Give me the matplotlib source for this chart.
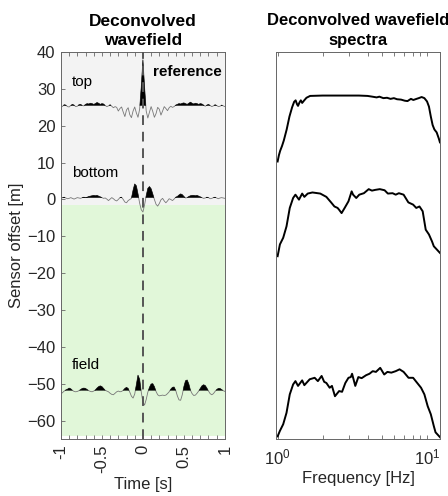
import numpy as np
import matplotlib
matplotlib.use("Agg")
import matplotlib.pyplot as plt
from matplotlib.ticker import FixedLocator, NullFormatter, LogLocator

plt.rcParams['font.family'] = ['Liberation Sans', 'DejaVu Sans']

# wiggle traces, sampled every 0.02 s from -1 to 1 (amplitude relative to trace offset)
trace_names = ["top", "bottom", "field"]
trace_offsets = [25.5, 0.5, -51.8]

top_trace = [
    -0.5, -0.2, 0.2, 0.1, -0.3, -0.4, 0.0, 0.3, 0.1, -0.3,
    -0.2, 0.2, 0.3, 0.0, -0.1, 0.3, 0.5, 0.4, 0.6, 0.5,
    0.3, 0.5, 0.8, 0.6, 0.3, 0.5, 0.4, 0.0, -0.3, -0.1,
    0.2, -0.2, -0.6, -0.3, -0.5, -1.5, -0.8, -0.4, -1.8, -3.0,
    -1.2, -0.6, -2.5, -3.3, -1.5, -0.4, -2.0, -3.2, -1.0, 5.0,
    12.4,
    5.0, -1.5, -3.4, -1.8, -0.3, -1.6, -3.2, -2.2, -0.5, -1.0,
    -2.6, -1.5, -0.3, -0.8, -1.4, -0.6, -0.2, -0.5, -0.3, 0.1,
    0.3, 0.5, 0.4, 0.6, 0.7, 0.5, 0.3, 0.6, 0.9, 0.6,
    0.4, 0.6, 0.5, 0.3, 0.5, 0.4, 0.1, -0.2, 0.1, 0.3,
    0.0, -0.3, -0.1, 0.2, 0.0, -0.3, -0.2, 0.1, -0.1, -0.3,
]

bottom_trace = [
    -0.3, 0.0, 0.1, -0.1, -0.3, -0.2, 0.0, -0.2, -0.4, -0.2,
    0.0, -0.1, -0.2, 0.0, 0.1, 0.0, 0.1, 0.3, 0.4, 0.5,
    0.6, 0.5, 0.6, 0.4, 0.2, 0.0, -0.2, -0.1, -0.4, -0.8,
    -0.4, 0.0, -0.3, -0.7, -0.9, -0.5, 0.0, 0.1, -0.5, -1.2,
    -1.4, -0.8, -0.5, -0.2, 2.0, 3.7, 3.2, 1.0, -1.5, -3.3,
    -3.9,
    -2.0, 0.5, 2.5, 3.0, 2.4, 1.0, -0.5, -1.8, -2.3, -1.6,
    -0.6, -0.2, -0.9, -1.4, -0.9, -0.3, -0.5, -0.8, -0.4, 0.1,
    0.3, 0.7, 1.0, 0.8, 0.3, -0.1, 0.0, 0.3, 0.5, 0.6,
    0.6, 0.5, 0.6, 0.4, 0.2, 0.0, -0.2, -0.1, 0.1, 0.0,
    -0.3, -0.2, 0.0, 0.1, -0.1, -0.3, -0.1, 0.0, -0.1, -0.2,
]

field_trace = [
    -1.0, -0.6, -0.2, 0.1, 0.3, 0.6, 0.4, 0.0, -0.3, -0.4,
    -0.3, -0.1, 0.2, 0.5, 0.6, 0.5, 0.2, -0.1, -0.3, -0.4,
    -0.2, 0.1, 0.6, 1.0, 1.2, 1.0, 0.5, 0.0, -0.2, -0.4,
    -0.8, -1.1, -1.2, -0.8, -0.4, -0.2, -0.4, -0.3, 0.0, 0.5,
    0.8, 0.5, -0.5, -1.6, -2.1, -1.0, 1.5, 4.1, 3.0, -0.5,
    -3.2,
    -4.0, -2.5, -0.5, 0.8, 1.7, 1.8, 1.0, -0.3, -1.2, -1.5,
    -1.4, -1.3, -1.4, -1.3, -0.9, -0.4, 0.3, 0.8, 0.9, 0.0,
    -1.5, -2.6, -2.7, -1.2, 1.0, 2.6, 2.8, 1.7, 0.0, -0.9,
    -1.4, -1.3, -0.8, -0.2, 0.5, 1.2, 1.5, 1.3, 0.6, -0.2,
    -0.9, -1.2, -0.9, -0.3, 0.2, 0.5, 0.5, 0.2, -0.1, -0.3,
]

traces = [top_trace, bottom_trace, field_trace]

# spectra (frequency in Hz, value in the same vertical units as the traces)
top_freq = [1.00, 1.02, 1.04, 1.07, 1.10, 1.15, 1.20, 1.25, 1.29, 1.32, 1.35, 1.37,
            1.40, 1.43, 1.46, 1.50, 1.56, 1.65, 2.0, 2.5, 3.0, 3.5, 4.0, 4.3, 4.6,
            4.8, 5.1, 5.4, 5.7, 6.0, 6.3, 6.7, 7.1, 7.4, 7.8, 8.1, 8.5, 8.8, 9.2,
            9.6, 10.0, 10.3, 10.6, 10.9, 11.2, 11.6, 12.0, 12.2]
top_spec = [10.3, 12.0, 13.2, 14.5, 16.0, 19.0, 22.5, 25.0, 26.5, 26.9, 25.8, 25.4,
            26.3, 26.9, 26.2, 26.8, 27.6, 28.1, 28.2, 28.2, 28.2, 28.2, 28.1, 27.9, 27.7,
            27.9, 27.5, 27.6, 27.3, 27.5, 27.2, 27.1, 26.8, 26.7, 27.3, 27.0, 27.3, 27.5, 27.8,
            27.5, 26.6, 25.2, 22.5, 20.2, 19.0, 18.2, 16.5, 15.5]

mid_freq = [1.00, 1.036, 1.09, 1.147, 1.206, 1.27, 1.316, 1.39, 1.46, 1.51, 1.59, 1.71,
            1.93, 2.12, 2.28, 2.40, 2.52, 2.58, 2.68, 2.81, 2.98, 3.13, 3.20, 3.36, 3.52,
            3.78, 4.07, 4.28, 4.50, 4.83, 5.20, 5.47, 5.88, 6.17, 6.48, 6.97, 7.50, 8.07,
            8.47, 8.90, 9.35, 9.80, 10.3, 10.8, 11.1, 12.2]
mid_spec = [-15.4, -12.2, -10.4, -7.3, -2.3, 0.4, 1.3, -0.05, 1.6, 0.7, 1.6, 1.9,
            1.6, 0.7, -0.8, -1.9, -2.3, -2.8, -3.7, -2.3, -0.5, 2.2, 1.3, 0.4, 1.3,
            1.7, 2.8, 2.4, 2.6, 2.8, 2.5, 1.6, 1.7, 1.3, 1.7, 1.3, -0.8, -1.4,
            -2.3, -1.9, -3.2, -8.2, -9.5, -11.4, -12.7, -14.5]

bot_freq = [1.00, 1.036, 1.09, 1.147, 1.206, 1.27, 1.316, 1.37, 1.46, 1.51, 1.64, 1.77,
            1.86, 1.97, 2.05, 2.12, 2.23, 2.31, 2.42, 2.58, 2.70, 2.84, 2.98, 3.09, 3.15,
            3.31, 3.47, 3.65, 3.91, 4.12, 4.33, 4.55, 4.86, 5.17, 5.43, 5.77, 6.17, 6.55,
            6.97, 7.52, 8.07, 8.48, 9.12, 9.60, 10.1, 10.6, 11.1, 11.4, 12.2]
bot_spec = [-64.3, -62.8, -61.0, -57.9, -52.9, -50.2, -49.3, -50.6, -49.1, -50.4, -48.8, -48.4,
            -49.3, -47.9, -49.5, -49.8, -51.1, -50.6, -53.4, -52.0, -52.2, -49.8, -48.4, -48.2, -47.3,
            -50.6, -48.2, -48.5, -47.7, -47.3, -46.6, -46.8, -45.7, -47.5, -46.8, -47.0, -46.6, -46.1,
            -46.8, -48.4, -48.4, -49.5, -51.1, -52.9, -56.1, -58.3, -61.5, -63.2, -64.5]

spectra = [(top_freq, top_spec), (mid_freq, mid_spec), (bot_freq, bot_spec)]

edge = '#666666'
txt = '#262626'

fig = plt.figure(figsize=(4.48, 4.96), dpi=100)
ax1 = fig.add_axes([0.136, 0.115, 0.366, 0.780])
ax2 = fig.add_axes([0.616, 0.115, 0.366, 0.780])

# left panel: background zones
ax1.axhspan(-1.5, 40, color='#f3f3f3', lw=0, zorder=0)
ax1.axhspan(-64.2, -1.5, color='#e1f7d9', lw=0, zorder=0)

for name, off, tr in zip(trace_names, trace_offsets, traces):
    v = np.array(tr)
    t = np.linspace(-1, 1, len(v))
    ax1.plot(t, off + v, color='#777777', lw=0.6, zorder=2)
    ax1.fill_between(t, off, off + v, where=v > 0, interpolate=True,
                     color='black', lw=0.3, zorder=3)

ax1.axvline(0, color='#555555', lw=1.4, ls=(0, (5, 3.5)), zorder=4)

ax1.text(-0.87, 32, "top", fontsize=11, va='center')
ax1.text(0.12, 34.7, "reference", fontsize=11, fontweight='bold', va='center')
ax1.text(-0.87, 7.2, "bottom", fontsize=11, va='center')
ax1.text(-0.87, -45, "field", fontsize=11, va='center')

ax1.set_xlim(-1, 1)
ax1.set_ylim(-65, 40)
xt = np.round(np.arange(-1, 1.01, 0.1), 2)
ax1.set_xticks(xt)
ax1.set_xticklabels(["-1" if x == -1 else "-0.5" if x == -0.5 else "0" if x == 0
                     else "0.5" if x == 0.5 else "1" if x == 1 else "" for x in xt],
                    rotation=90)
ax1.set_yticks(np.arange(-60, 41, 10))
ax1.tick_params(direction='in', top=True, right=False, length=3, width=0.6,
                labelsize=12, colors=edge, labelcolor=txt, pad=4)
ax1.set_xlabel("Time [s]", fontsize=12, color=txt, labelpad=3)
ax1.set_ylabel("Sensor offset [m]", fontsize=12, color=txt, labelpad=2)
ax1.set_title("Deconvolved\nwavefield", fontsize=12.5, fontweight='bold',
              color='black', pad=5, linespacing=1.35)

# right panel: spectra
for f, s in spectra:
    ax2.plot(f, s, color='black', lw=1.4)

ax2.set_xscale('log')
ax2.set_xlim(0.975, 12.2)
ax2.set_ylim(-65, 40)
ax2.set_yticks([])
ax2.xaxis.set_major_locator(FixedLocator([1, 10]))
ax2.xaxis.set_minor_locator(LogLocator(base=10, subs=np.arange(2, 10)))
ax2.xaxis.set_minor_formatter(NullFormatter())
ax2.tick_params(axis='x', which='both', direction='in', top=True, length=3,
                width=0.6, labelsize=12, colors=edge, labelcolor=txt, pad=6)
ax2.set_xlabel("Frequency [Hz]", fontsize=12, color=txt, labelpad=3)
ax2.set_title("Deconvolved wavefield\nspectra", fontsize=12, fontweight='bold',
              color='black', pad=5, linespacing=1.4)

for ax in (ax1, ax2):
    for sp in ax.spines.values():
        sp.set_color(edge)
        sp.set_linewidth(0.7)

fig.savefig("out.png", dpi=100)
